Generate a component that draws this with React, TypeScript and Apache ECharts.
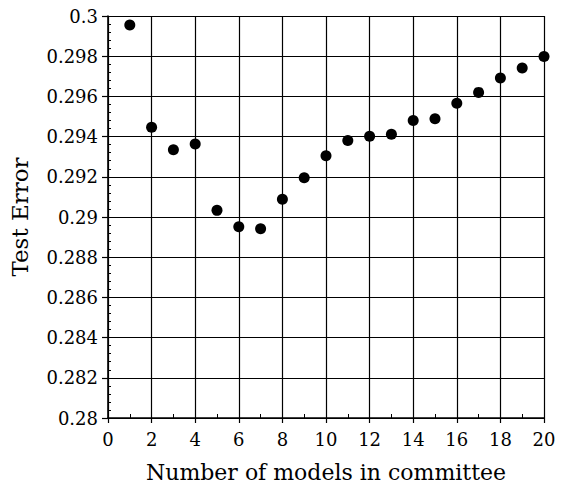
import React, { useEffect, useRef } from "react";
import * as echarts from "echarts";

// Committee size (number of models) and measured test error
const committeeSizes = [1, 2, 3, 4, 5, 6, 7, 8, 9, 10, 11, 12, 13, 14, 15, 16, 17, 18, 19, 20];
const testErrors = [
  0.29955, 0.29447, 0.29335, 0.29363, 0.29033, 0.28952, 0.28941, 0.29088, 0.29195, 0.29305,
  0.29381, 0.29402, 0.29412, 0.2948, 0.29489, 0.29566, 0.2962, 0.29691, 0.29741, 0.29799,
];

const xTitle = "Number of models in committee";
const yTitle = "Test Error";

const FONT = "DejaVu Serif";

export default function App() {
  const ref = useRef<HTMLDivElement>(null);

  useEffect(() => {
    if (!ref.current) return;
    const chart = echarts.init(ref.current, null, { renderer: "svg" });
    const points = committeeSizes.map((n, i) => [n, testErrors[i]]);

    chart.setOption({
      animation: false,
      backgroundColor: "#ffffff",
      grid: { left: 103.5, right: 24, top: 16, bottom: 68, containLabel: false },
      xAxis: {
        type: "value",
        min: 0,
        max: 20,
        interval: 2,
        name: xTitle,
        nameLocation: "middle",
        nameGap: 43,
        nameTextStyle: { fontFamily: FONT, fontSize: 22, color: "#000" },
        axisLine: { show: true, onZero: false, lineStyle: { color: "#000", width: 1.6 } },
        axisTick: { show: true, inside: false, length: 5, lineStyle: { color: "#000", width: 1.2 } },
        minorTick: { show: true, splitNumber: 2, length: -4, lineStyle: { color: "#000", width: 1 } },
        splitLine: { show: true, lineStyle: { color: "#000", width: 1.2 } },
        axisLabel: { fontFamily: FONT, fontSize: 18, color: "#000", margin: 12 },
      },
      yAxis: {
        type: "value",
        min: 0.28,
        max: 0.3,
        interval: 0.002,
        name: yTitle,
        nameLocation: "middle",
        nameGap: 77,
        nameRotate: 90,
        nameTextStyle: { fontFamily: FONT, fontSize: 23, color: "#000" },
        axisLine: { show: true, onZero: false, lineStyle: { color: "#000", width: 1.6 } },
        axisTick: { show: true, inside: false, length: 6, lineStyle: { color: "#000", width: 1.2 } },
        minorTick: { show: true, splitNumber: 5, length: -3, lineStyle: { color: "#000", width: 1 } },
        splitLine: { show: true, lineStyle: { color: "#000", width: 1.2 } },
        axisLabel: {
          fontFamily: FONT,
          fontSize: 18,
          color: "#000",
          margin: 10,
          formatter: (v: number) => String(parseFloat(v.toFixed(3))),
        },
      },
      series: [
        {
          type: "scatter",
          data: points,
          symbol: "circle",
          symbolSize: 11,
          itemStyle: { color: "#000", opacity: 1 },
        },
      ],
    });

    return () => chart.dispose();
  }, []);

  return <div ref={ref} style={{ width: 568, height: 488, margin: -8 }} />;
}
